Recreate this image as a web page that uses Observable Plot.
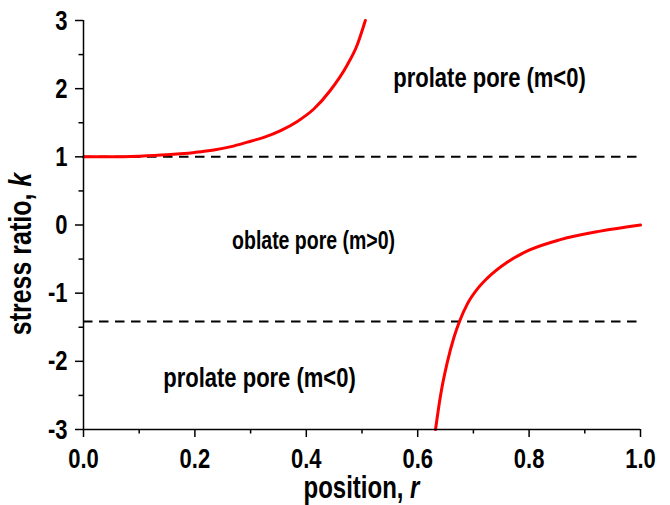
<!DOCTYPE html>
<html>
<head>
<meta charset="utf-8">
<script src="https://cdn.jsdelivr.net/npm/d3@7"></script>
<script src="https://cdn.jsdelivr.net/npm/@observablehq/plot@0.6"></script>
<style>
  html, body { margin: 0; padding: 0; background: #fff; }
  #chart { width: 670px; height: 505px; }
</style>
</head>
<body>
<div id="chart"></div>
<script>
// upper branch (k > 1)
const upperR = [0, 0.05, 0.1, 0.15, 0.174, 0.2, 0.234, 0.265, 0.294, 0.325, 0.354, 0.384, 0.414, 0.443, 0.473, 0.491, 0.506];
const upperK = [1.0, 1.0, 1.01, 1.03, 1.045, 1.065, 1.10, 1.15, 1.215, 1.29, 1.386, 1.52, 1.705, 1.973, 2.34, 2.633, 3.0];
// lower branch (k < 0)
const lowerR = [0.632, 0.641, 0.653, 0.665, 0.675, 0.689, 0.707, 0.725, 0.76, 0.8, 0.856, 0.928, 1.0];
const lowerK = [-3.0, -2.5, -2.02, -1.65, -1.415, -1.16, -0.94, -0.78, -0.55, -0.37, -0.215, -0.09, 0.0];
// dashed boundaries
const boundaryK = [1, -1.414];
// tick values
const xTicks = [0, 0.2, 0.4, 0.6, 0.8, 1.0];
const xMinor = [0.1, 0.3, 0.5, 0.7, 0.9];
const yTicks = [-3, -2, -1, 0, 1, 2, 3];
const yMinor = [-2.5, -1.5, -0.5, 0.5, 1.5, 2.5];
// region annotations
const labelText = ["prolate pore (m<0)", "oblate pore (m>0)", "prolate pore (m<0)"];
const labelR = [0.729, 0.413, 0.316];
const labelK = [2.16, -0.23, -2.24];
const labelSize = [22, 19.5, 22];

const upper = upperR.map((r, i) => ({r, k: upperK[i]}));
const lower = lowerR.map((r, i) => ({r, k: lowerK[i]}));
const labels = labelText.map((t, i) => ({t, r: labelR[i], k: labelK[i], s: labelSize[i]}));

const FONT = "'Liberation Sans', Arial, sans-serif";

const plot = Plot.plot({
  width: 670,
  height: 505,
  marginLeft: 83,
  marginRight: 30,
  marginTop: 20,
  marginBottom: 76,
  style: {fontFamily: FONT, fontWeight: "bold", background: "#fff", color: "#000", overflow: "visible"},
  x: {domain: [0, 1], axis: null},
  y: {domain: [-3, 3], axis: null},
  marks: [
    Plot.ruleY(boundaryK, {stroke: "#000", strokeWidth: 2, strokeDasharray: "9.5,6.5"}),
    Plot.line(upper, {x: "r", y: "k", stroke: "#ff0000", strokeWidth: 3, curve: "monotone-x"}),
    Plot.line(lower, {x: "r", y: "k", stroke: "#ff0000", strokeWidth: 3, curve: "monotone-x"}),
    ...labels.map(d => Plot.text([d], {x: "r", y: "k", text: "t", fontSize: d.s, fontWeight: "bold", fill: "#000", fontFamily: FONT})),
    Plot.axisX({ticks: xTicks, tickSize: 8, tickPadding: 13, strokeWidth: 1.5, fontSize: 22, fontWeight: "bold", tickFormat: d => d.toFixed(1), label: null}),
    Plot.axisX({ticks: xMinor, tickSize: 4.5, strokeWidth: 1.5, tickFormat: () => "", label: null}),
    Plot.axisY({ticks: yTicks, tickSize: 8, tickPadding: 8, strokeWidth: 1.5, fontSize: 22, fontWeight: "bold", tickFormat: d => String(d), label: null}),
    Plot.axisY({ticks: yMinor, tickSize: 4.5, strokeWidth: 1.5, tickFormat: () => "", label: null}),
    Plot.ruleX([0], {stroke: "#000", strokeWidth: 1.5}),
    Plot.ruleY([-3], {stroke: "#000", strokeWidth: 1.5})
  ]
});

document.getElementById("chart").appendChild(plot);

// axis titles with italic variables
const svg = d3.select(plot);
const xs = plot.scale("x");
const xt = svg.append("text")
  .attr("x", xs.apply(0.5)).attr("y", 496)
  .attr("text-anchor", "middle")
  .attr("font-family", FONT).attr("font-weight", "bold").attr("font-size", 24).attr("fill", "#000");
xt.append("tspan").text("position, ");
xt.append("tspan").attr("font-style", "italic").text("r");

const yt = svg.append("text")
  .attr("transform", `translate(28.5,254) rotate(-90)`)
  .attr("text-anchor", "middle")
  .attr("font-family", FONT).attr("font-weight", "bold").attr("font-size", 25).attr("fill", "#000");
yt.append("tspan").text("stress ratio, ");
yt.append("tspan").attr("font-style", "italic").text("k");

// the reference lettering is taller than it is wide: stretch glyphs vertically about their centre
const STRETCH = 1.28;
svg.selectAll("text").each(function () {
  const b = this.getBBox();
  if (!b.width) return;
  const cy = b.y + b.height / 2;
  const t = this.getAttribute("transform") || "";
  this.setAttribute("transform", `${t} translate(0,${cy}) scale(1,${STRETCH}) translate(0,${-cy})`.trim());
});
</script>
</body>
</html>
